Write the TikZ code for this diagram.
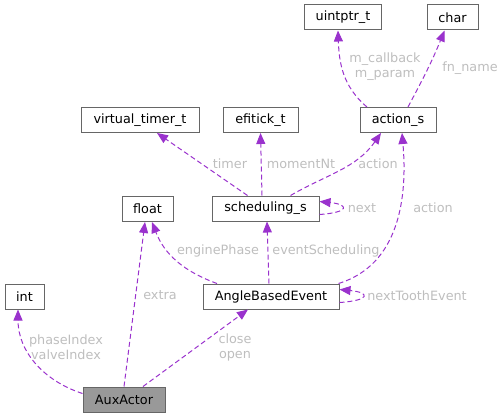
\documentclass[tikz,border=0pt]{standalone}
\usepackage{fontspec}
\setmainfont{DejaVu Sans}
\usetikzlibrary{arrows.meta}
\definecolor{edgepurple}{HTML}{9A32CD}
\definecolor{lblgrey}{HTML}{BEBEBE}
\definecolor{boxgrey}{HTML}{666666}
\definecolor{focusfill}{HTML}{999999}

\begin{document}
\begin{tikzpicture}[x=1pt, y=1pt,
  cls/.style={draw=boxgrey, line width=1pt, fill=white, inner sep=0pt, minimum height=25pt, font=\fontsize{12.8}{15}\selectfont},
  rel/.style={draw=edgepurple, line width=1pt, dash pattern=on 5pt off 3pt, -{Triangle[length=11pt,width=9pt]}},
  lbl/.style={text=lblgrey, align=center, inner sep=0pt, font=\fontsize{12.8}{15}\selectfont}]
\useasboundingbox (0,0) rectangle (503,-417);

% Classes
\node[cls, minimum width=77pt] (uintptr) at (343,-17.5) {uintptr\_t};
\node[cls, minimum width=51pt] (char) at (452.5,-17.5) {char};
\node[cls, minimum width=76pt] (actions) at (398,-120) {action\_s};
\node[cls, minimum width=118pt] (vtimer) at (140,-120) {virtual\_timer\_t};
\node[cls, minimum width=75pt] (efitick) at (260.5,-120) {efitick\_t};
\node[cls, minimum width=51pt] (float) at (147.5,-209) {float};
\node[cls, minimum width=107pt] (sched) at (265.5,-208.5) {scheduling\_s};
\node[cls, minimum width=136pt] (abe) at (271,-296.5) {AngleBasedEvent};
\node[cls, minimum width=39pt] (int) at (24.5,-296.5) {int};
\node[cls, minimum width=82pt, fill=focusfill] (aux) at (124,-399.5) {AuxActor};

% AuxActor members
\draw[rel] ([yshift=6pt]aux.west) to[out=162,in=-90] ([xshift=-6.5pt]int.south);
\node[lbl] (l-phase) at (66,-347) {phaseIndex\\valveIndex};
\draw[rel] (aux.north) -- ([xshift=-2.5pt]float.south);
\node[lbl] (l-extra) at (160,-295) {extra};
\draw[rel] ([xshift=19pt]aux.north) -- ([xshift=-23pt]abe.south);
\node[lbl] (l-close) at (235,-347) {close\\open};

% AngleBasedEvent members
\draw[rel] ([xshift=-54pt]abe.north) to[out=160,in=-69] ([xshift=4.5pt]float.south);
\node[lbl] (l-phase2) at (218,-251) {enginePhase};
\draw[rel] ([xshift=-2pt]abe.north) -- ([xshift=1.5pt]sched.south);
\node[lbl] (l-evsched) at (326,-251) {eventScheduling};
\draw[rel] ([xshift=-1pt]abe.north east) to[out=17,in=-85] ([xshift=4pt]actions.south);
\node[lbl] (l-action2) at (433,-208) {action};
\draw[rel] ([yshift=-6pt]abe.east) .. controls +(31,2) and +(31,-3) .. ([yshift=7pt]abe.east);
\node[lbl] (l-next2) at (417,-296) {nextToothEvent};

% scheduling_s members
\draw[rel] ([xshift=-18pt]sched.north) -- ([xshift=17pt]vtimer.south);
\node[lbl] (l-timer) at (230,-164) {timer};
\draw[rel] ([xshift=-3.5pt]sched.north) -- (efitick.south);
\node[lbl] (l-moment) at (301,-164) {momentNt};
\draw[rel] ([xshift=25pt]sched.north) to[out=30,in=-125] ([xshift=-17pt]actions.south);
\node[lbl] (l-action1) at (378,-164) {action};
\draw[rel] ([yshift=-6pt]sched.east) .. controls +(30,2) and +(30,-3) .. ([yshift=7pt]sched.east);
\node[lbl] (l-next1) at (362,-208) {next};

% action_s members
\draw[rel] ([xshift=-31pt]actions.north) to[out=140,in=-88] ([xshift=-5pt]uintptr.south);
\node[lbl] (l-cb) at (385,-67) {m\_callback\\m\_param};
\draw[rel] ([xshift=10pt]actions.north) to[out=62,in=-112] ([xshift=-8pt]char.south);
\node[lbl] (l-fn) at (470,-68) {fn\_name};

\end{tikzpicture}
\end{document}
